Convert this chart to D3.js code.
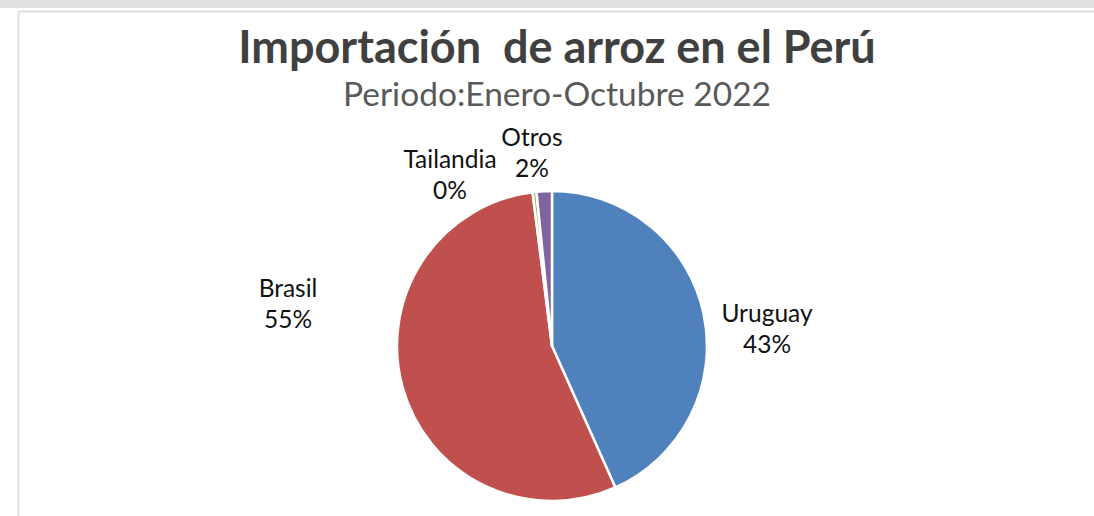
<!DOCTYPE html>
<html>
<head>
<meta charset="utf-8">
<script src="https://cdn.jsdelivr.net/npm/d3@7"></script>
<style>
  body { margin: 0; background: #fff; }
  svg { display: block; }
</style>
</head>
<body>
<div id="chart"></div>
<script>
// data
const countries = ['Uruguay', 'Brasil', 'Tailandia', 'Otros'];
const shares = [43.3, 54.7, 0.4, 1.6];
const pctLabels = ['43%', '55%', '0%', '2%'];
const colors = ['#4f81bd', '#c0504d', '#9bbb59', '#8064a2'];

const width = 1094, height = 516;
const cx = 552, cy = 346, radius = 155;

// label anchor points (centre x, baseline of first line)
const labelPos = [[767, 322], [288, 297], [450, 168], [532, 146]];

const svg = d3.select('#chart').append('svg')
    .attr('width', width)
    .attr('height', height);

// window frame: grey strip on top, thin border lines
svg.append('rect').attr('x', 0).attr('y', 0).attr('width', width).attr('height', 8).attr('fill', '#e0e0e0');
svg.append('line').attr('x1', 19).attr('x2', width).attr('y1', 11.5).attr('y2', 11.5)
    .attr('stroke', '#dcdcdc').attr('stroke-width', 2);
svg.append('line').attr('x1', 18.5).attr('x2', 18.5).attr('y1', 11).attr('y2', height)
    .attr('stroke', '#e2e2e2').attr('stroke-width', 2);

// titles
svg.append('text')
    .attr('x', 557).attr('y', 63)
    .attr('text-anchor', 'middle')
    .style('font-family', 'Lato, sans-serif')
    .style('font-weight', 'bold')
    .style('font-size', '45px')
    .attr('fill', '#404040')
    .attr('xml:space', 'preserve')
    .text('Importación  de arroz en el Perú');

svg.append('text')
    .attr('x', 557).attr('y', 106)
    .attr('text-anchor', 'middle')
    .style('font-family', 'Lato, sans-serif')
    .style('font-size', '33.5px')
    .attr('fill', '#595959')
    .text('Periodo:Enero-Octubre 2022');

// pie
const pie = d3.pie().sort(null).value(d => d);
const arc = d3.arc().innerRadius(0).outerRadius(radius);

const g = svg.append('g').attr('transform', `translate(${cx},${cy})`);

g.selectAll('path.slice')
    .data(pie(shares))
    .join('path')
    .classed('slice', true)
    .attr('d', arc)
    .attr('fill', (d, i) => colors[i])
    .attr('stroke', '#fff')
    .attr('stroke-width', 2.5)
    .attr('stroke-linejoin', 'round');

// data labels
const labels = svg.append('g')
    .style('font-family', 'Lato, sans-serif')
    .style('font-size', '24.5px')
    .attr('fill', '#111');

countries.forEach((c, i) => {
    const t = labels.append('text')
        .attr('x', labelPos[i][0])
        .attr('y', labelPos[i][1])
        .attr('text-anchor', 'middle');
    t.append('tspan').attr('x', labelPos[i][0]).text(c);
    t.append('tspan').attr('x', labelPos[i][0]).attr('dy', 31).text(pctLabels[i]);
});
</script>
</body>
</html>
